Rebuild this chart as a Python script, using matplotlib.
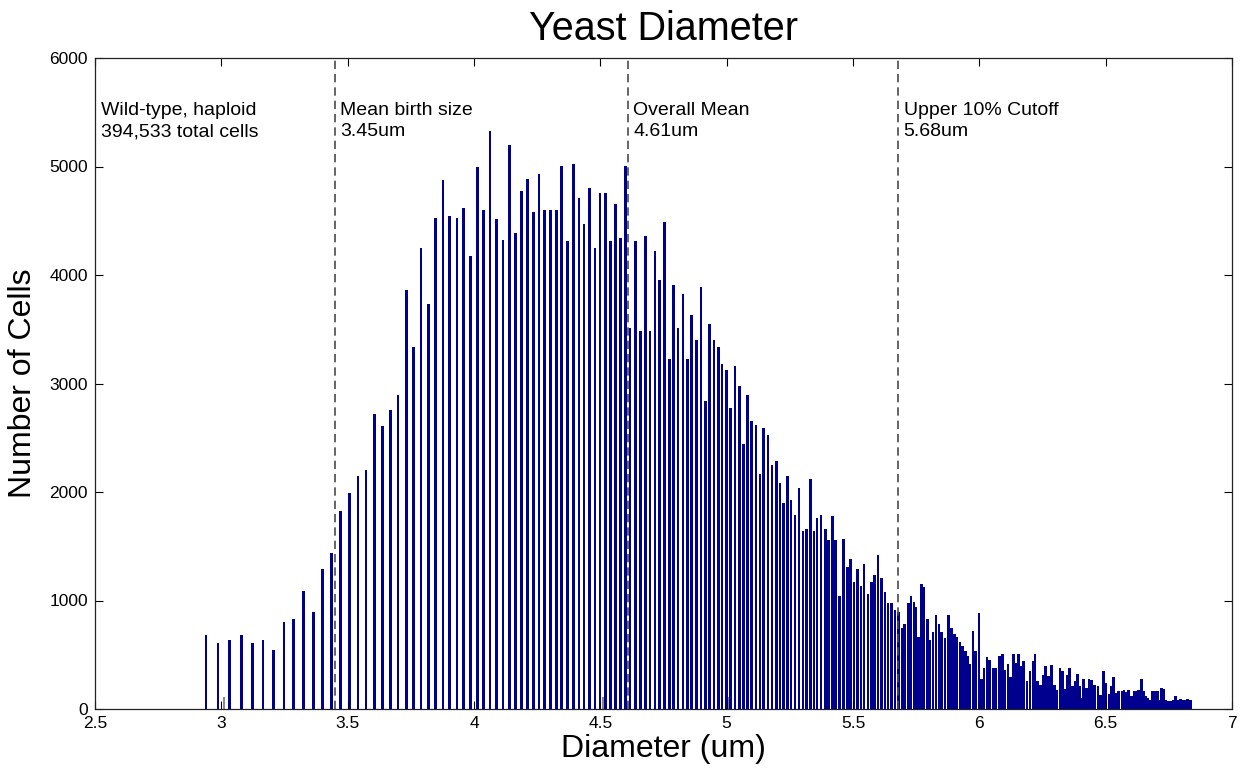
import matplotlib
matplotlib.use("Agg")
import matplotlib.pyplot as plt

plt.rcParams['font.family'] = ['Liberation Sans', 'DejaVu Sans']

# histogram bin centres (um) and cell counts
diameters = [
    2.939, 2.987, 3.033, 3.081, 3.124, 3.165, 3.206, 3.248, 3.286, 3.324, 3.364, 3.400, 3.437, 3.471,
    3.506, 3.541, 3.572, 3.607, 3.639, 3.669, 3.699, 3.732, 3.761, 3.790, 3.819, 3.848,
    3.877, 3.904, 3.933, 3.959, 3.987, 4.013, 4.038, 4.064, 4.088, 4.115, 4.140, 4.163, 4.187, 4.212, 4.235,
    4.257, 4.280, 4.303, 4.326, 4.347, 4.371, 4.393, 4.415, 4.435, 4.456, 4.479, 4.498, 4.521, 4.541,
    4.559, 4.580, 4.600,
    4.618, 4.640, 4.658, 4.678, 4.697, 4.716, 4.735, 4.754, 4.773, 4.790, 4.808, 4.827, 4.844, 4.862,
    4.880, 4.898, 4.915, 4.933, 4.950, 4.968, 4.982,
    5.000, 5.016, 5.033, 5.050, 5.067, 5.083, 5.099, 5.116, 5.132, 5.147, 5.163, 5.179, 5.196, 5.211,
    5.225, 5.241, 5.255, 5.271, 5.286, 5.302, 5.316, 5.331, 5.345, 5.358,
    5.374, 5.390, 5.403, 5.419, 5.432, 5.447, 5.463, 5.477, 5.489, 5.504, 5.517, 5.531, 5.544, 5.559,
    5.574, 5.586, 5.599, 5.613, 5.626, 5.639, 5.653, 5.666, 5.679, 5.694, 5.705, 5.719, 5.730,
    5.741, 5.750, 5.758, 5.770, 5.781, 5.794, 5.804, 5.817, 5.828, 5.840, 5.851, 5.864, 5.877, 5.891,
    5.902, 5.912, 5.923, 5.934, 5.944, 5.954, 5.963, 5.975, 5.985, 5.998,
    6.009, 6.019, 6.030, 6.041, 6.055, 6.066, 6.080, 6.092, 6.102, 6.113, 6.123, 6.134, 6.145, 6.155,
    6.166, 6.176, 6.188, 6.200, 6.212, 6.221, 6.231, 6.241, 6.252, 6.263, 6.274, 6.286, 6.297, 6.306,
    6.319, 6.330, 6.339, 6.348, 6.358, 6.370, 6.378, 6.388, 6.397, 6.405, 6.413, 6.423, 6.434, 6.445,
    6.457, 6.469, 6.480, 6.492, 6.502, 6.513, 6.522, 6.532, 6.542, 6.552, 6.564, 6.573, 6.583, 6.591,
    6.601, 6.612, 6.622, 6.631, 6.641, 6.650, 6.658, 6.668, 6.676, 6.684, 6.694, 6.704, 6.712, 6.721,
    6.729, 6.737, 6.746, 6.757, 6.766, 6.777, 6.786, 6.796, 6.806, 6.816, 6.825, 6.836,
]
counts = [
    678, 611, 632, 678, 611, 632, 547, 802, 829, 1084, 897, 1290, 1438, 1821,
    1994, 2144, 2203, 2719, 2605, 2756, 2890, 3865, 3339, 4252, 3733, 4526,
    4876, 4544, 4526, 4618, 4175, 4992, 4602, 5330, 4519, 4319, 5201, 4387, 4771, 4885, 4577,
    4934, 4596, 4602, 4596, 5008, 4310, 5023, 4706, 4470, 4802, 4249, 4752, 4752, 4310,
    4651, 4341, 5008,
    3512, 4310, 3480, 4356, 3480, 4224, 3954, 4489, 3226, 3905, 3512, 3821, 3226, 3631,
    3397, 3886, 2842, 3549, 3397, 3333, 3183,
    3124, 2777, 3164, 2974, 2439, 2890, 2657, 2618, 2166, 2590, 2522, 2252, 2289, 2083,
    1895, 2148, 1929, 1791, 2037, 1637, 1659, 2116, 1637, 1760,
    1788, 1659, 1554, 1775, 1554, 1038, 1570, 1309, 1385, 1167, 1290, 1136, 1336, 1063,
    1167, 1231, 1419, 1204, 1078, 980, 980, 909, 897, 746, 786, 980, 1038,
    986, 937, 660, 1152, 1121, 830, 636, 706, 866, 783, 713, 654, 866, 743,
    694, 660, 618, 577, 537, 485, 415, 716, 531, 885,
    280, 378, 479, 455, 378, 378, 485, 507, 362, 415, 295, 510, 424, 510,
    393, 445, 261, 347, 445, 510, 261, 224, 316, 393, 307, 408, 224, 171,
    378, 347, 184, 316, 378, 208, 254, 325, 208, 101, 276, 193, 276, 264,
    224, 210, 132, 347, 240, 141, 208, 295, 147, 162, 162, 171, 157, 178,
    123, 162, 162, 171, 276, 168, 116, 98, 86, 162, 162, 162, 86, 193,
    187, 80, 74, 74, 80, 123, 86, 92, 86, 86, 92, 86,
]

# a few sparse bins that show up as thin grey slivers
minor_diameters = [3.010, 4.510, 5.008]
minor_counts = [115, 110, 115]

# reference lines: value and label
marker_values = [3.45, 4.61, 5.68]
marker_labels = ['Mean birth size\n3.45um', 'Overall Mean\n4.61um', 'Upper 10% Cutoff\n5.68um']
strain_label = 'Wild-type, haploid\n394,533 total cells'

xticks = [2.5, 3, 3.5, 4, 4.5, 5, 5.5, 6, 6.5, 7]
xtick_labels = ['2.5', '3', '3.5', '4', '4.5', '5', '5.5', '6', '6.5', '7']
yticks = [0, 1000, 2000, 3000, 4000, 5000, 6000]

W, H = 1243, 769
fig = plt.figure(figsize=(W / 100, H / 100), dpi=100)
ax = fig.add_axes([95 / W, (H - 709) / H, (1232 - 95) / W, (709 - 58) / H])

bar_color = '#00008F'
ax.bar(minor_diameters, minor_counts, width=0.006, color='#8a8a8a', linewidth=0)
ax.bar(diameters, counts, width=0.0105, color=bar_color, linewidth=0)

for v in marker_values:
    ax.axvline(v, color='#4a4a4a', linewidth=1.2, linestyle=(0, (5, 3)), zorder=3)

txt_kw = dict(fontsize=14, va='top', ha='left', color='black', linespacing=1.3)
ax.text(2.524, 5590, strain_label, **txt_kw)
for v, lab in zip(marker_values, marker_labels):
    ax.text(v + 0.02, 5590, lab, **txt_kw)

ax.set_xlim(2.5, 7)
ax.set_ylim(0, 6000)
ax.set_xticks(xticks)
ax.set_xticklabels(xtick_labels)
ax.set_yticks(yticks)
ax.set_yticklabels([str(t) for t in yticks])
ax.tick_params(direction='in', top=True, right=True, length=6, width=0.8,
               labelsize=12.5, pad=5)
for sp in ax.spines.values():
    sp.set_linewidth(0.9)
    sp.set_color('#222222')

ax.set_title('Yeast Diameter', fontsize=28.5, pad=13)
ax.set_xlabel('Diameter (um)', fontsize=23, labelpad=2)
ax.set_ylabel('Number of Cells', fontsize=23, labelpad=8)

fig.savefig('out.png', dpi=100, facecolor='white')
